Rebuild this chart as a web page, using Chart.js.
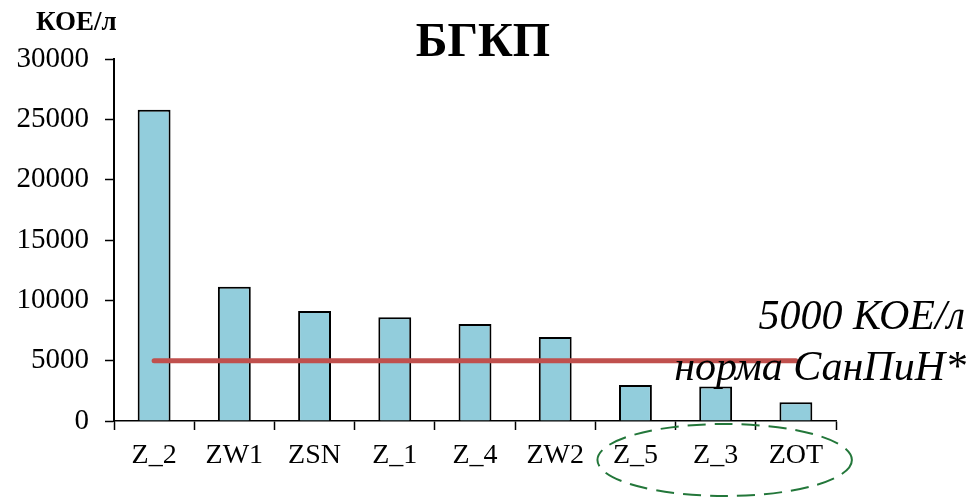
<!DOCTYPE html>
<html>
<head>
<meta charset="utf-8">
<script src="https://cdn.jsdelivr.net/npm/chart.js@4.4.0/dist/chart.umd.min.js"></script>
<style>
  html, body { margin: 0; padding: 0; background: #fff; }
  #wrap { width: 973px; height: 498px; position: relative; }
</style>
</head>
<body>
<div id="wrap"><canvas id="myChart" width="973" height="498"></canvas></div>
<script>
// data
var categories = ['Z_2', 'ZW1', 'ZSN', 'Z_1', 'Z_4', 'ZW2', 'Z_5', 'Z_3', 'ZOT'];
var bgkpValues = [25800, 11130, 9120, 8600, 8040, 6960, 2980, 2850, 1550];
var normValues = [5000, 5000, 5000, 5000, 5000, 5000, 5000, 5000, 5000];
var yTicks = [0, 5000, 10000, 15000, 20000, 25000, 30000];
var circled = ['Z_5', 'ZOT']; // first and last label inside the green ellipse

var serif = '"Liberation Serif", "Times New Roman", serif';

// title, unit, norm text and the dashed ellipse
var extras = {
    id: 'extras',
    afterDraw: function(chart) {
        var ctx = chart.ctx;
        var x = chart.scales.x;
        var area = chart.chartArea;
        ctx.save();
        ctx.fillStyle = '#000';
        ctx.textBaseline = 'alphabetic';

        ctx.font = 'bold 48px ' + serif;
        ctx.textAlign = 'center';
        ctx.fillText('БГКП', 483, 56);

        ctx.font = 'bold 27px ' + serif;
        ctx.textAlign = 'left';
        ctx.fillText('КОЕ/л', 36, 30);

        ctx.font = 'italic 42px ' + serif;
        ctx.textAlign = 'right';
        ctx.fillText('5000 КОЕ/л', 965, 329);
        ctx.fillText('норма СанПиН*', 966, 380);

        // ellipse around the last three labels
        var x1 = x.getPixelForValue(categories.indexOf(circled[0]));
        var x2 = x.getPixelForValue(categories.indexOf(circled[1]));
        var cx = (x1 + x2) / 2 + 9;
        var rx = (x2 - x1) / 2 + 47;
        var cy = area.bottom + 39;
        ctx.strokeStyle = '#23773a';
        ctx.lineWidth = 2;
        ctx.setLineDash([18, 9]);
        ctx.beginPath();
        ctx.ellipse(cx, cy, rx, 36, 0, 0, Math.PI * 2);
        ctx.stroke();
        ctx.restore();
    }
};

var ctx = document.getElementById('myChart').getContext('2d');
var chart = new Chart(ctx, {
    type: 'bar',
    data: {
        labels: categories,
        datasets: [{
            type: 'line',
            label: 'норма',
            data: normValues,
            borderColor: '#c0504d',
            borderWidth: 5,
            borderCapStyle: 'round',
            pointRadius: 0,
            fill: false,
            order: 0
        }, {
            label: 'БГКП',
            data: bgkpValues,
            backgroundColor: '#92cddc',
            borderColor: '#000',
            borderWidth: 2,
            barPercentage: 0.41,
            categoryPercentage: 1,
            order: 1
        }]
    },
    options: {
        responsive: false,
        animation: false,
        layout: { padding: { left: 0, right: 137, top: 59, bottom: 0 } },
        plugins: { legend: { display: false }, tooltip: { enabled: false } },
        scales: {
            x: {
                offset: true,
                grid: { offset: true, drawOnChartArea: false, color: '#000', tickLength: 9, tickWidth: 1.5 },
                border: { color: '#000', width: 1.5 },
                ticks: { color: '#000', font: { family: serif, size: 28 }, padding: 9 },
                afterFit: function(scale) { scale.height = 77; }
            },
            y: {
                min: 0,
                max: 30000,
                afterBuildTicks: function(scale) {
                    scale.ticks = yTicks.map(function(v) { return { value: v }; });
                },
                grid: { drawOnChartArea: false, color: '#000', tickLength: 9, tickWidth: 1.5 },
                border: { color: '#000', width: 2 },
                ticks: {
                    color: '#000', font: { family: serif, size: 29 }, padding: 16,
                    callback: function(v) { return String(v); }
                },
                afterFit: function(scale) { scale.width = 114; }
            }
        }
    },
    plugins: [extras]
});
</script>
</body>
</html>
